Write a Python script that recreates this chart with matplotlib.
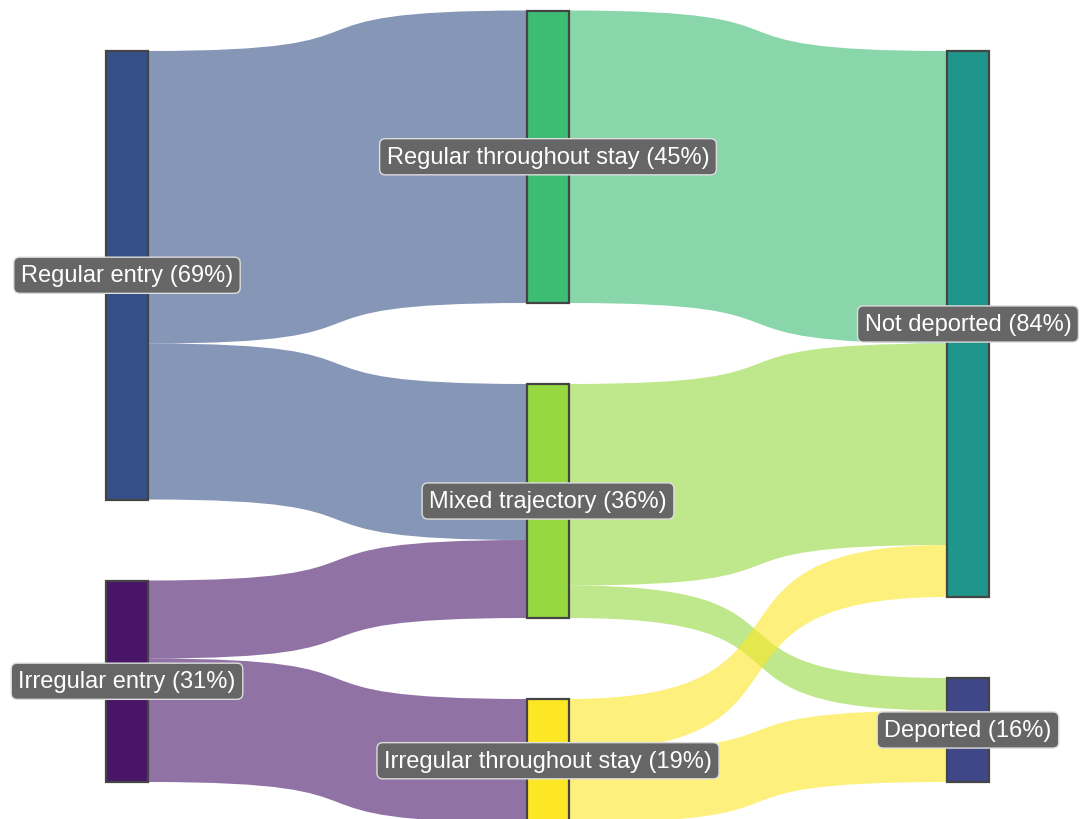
import matplotlib
matplotlib.use("Agg")
import matplotlib.pyplot as plt
from matplotlib.path import Path
from matplotlib.patches import PathPatch, Rectangle

# nodes per column (top to bottom)
columns = [
    ["Regular entry", "Irregular entry"],
    ["Regular throughout stay", "Mixed trajectory", "Irregular throughout stay"],
    ["Not deported", "Deported"],
]
node_labels = {
    "Regular entry": "Regular entry (69%)",
    "Irregular entry": "Irregular entry (31%)",
    "Regular throughout stay": "Regular throughout stay (45%)",
    "Mixed trajectory": "Mixed trajectory (36%)",
    "Irregular throughout stay": "Irregular throughout stay (19%)",
    "Not deported": "Not deported (84%)",
    "Deported": "Deported (16%)",
}
node_colors = {
    "Regular entry": "#355088",
    "Irregular entry": "#481567",
    "Regular throughout stay": "#3dbc74",
    "Mixed trajectory": "#95d840",
    "Irregular throughout stay": "#fde725",
    "Not deported": "#1f968b",
    "Deported": "#3f4788",
}

# flows (percent of people)
sources = ["Regular entry", "Regular entry", "Irregular entry", "Irregular entry",
           "Regular throughout stay", "Mixed trajectory", "Mixed trajectory",
           "Irregular throughout stay", "Irregular throughout stay"]
targets = ["Regular throughout stay", "Mixed trajectory", "Mixed trajectory",
           "Irregular throughout stay", "Not deported", "Not deported", "Deported",
           "Not deported", "Deported"]
values = [45, 24, 12, 19, 45, 31, 5, 8, 11]

W, H = 1081, 820
SCALE = 6.5          # px per percent
PAD = 81             # px gap between nodes
CENTER = 417.5
NODE_W = 42
COL_X = [106, 527, 947]
CURV = 0.72          # bezier control point offset (fraction of link length)

fig = plt.figure(figsize=(W / 100, H / 100), dpi=100)
ax = fig.add_axes([0, 0, 1, 1])
ax.set_xlim(0, W); ax.set_ylim(H, 0); ax.axis("off")

# node sizes
size = {}
for s, t, v in zip(sources, targets, values):
    size.setdefault(s, [0, 0]); size.setdefault(t, [0, 0])
    size[s][1] += v; size[t][0] += v
node_val = {n: max(io) for n, io in size.items()}

pos = {}
for ci, col in enumerate(columns):
    total = sum(node_val[n] for n in col) * SCALE + PAD * (len(col) - 1)
    y = CENTER - total / 2
    for n in col:
        h = node_val[n] * SCALE
        pos[n] = (COL_X[ci], y, h)
        y += h + PAD

out_off = {n: pos[n][1] for n in pos}
in_off = {n: pos[n][1] for n in pos}
for s, t, v in zip(sources, targets, values):
    h = v * SCALE
    x0 = pos[s][0] + NODE_W; x1 = pos[t][0]
    xa = x0 + CURV * (x1 - x0); xb = x1 - CURV * (x1 - x0)
    ys, yt = out_off[s], in_off[t]
    out_off[s] += h; in_off[t] += h
    verts = [(x0, ys), (xa, ys), (xb, yt), (x1, yt), (x1, yt + h),
             (xb, yt + h), (xa, ys + h), (x0, ys + h), (x0, ys)]
    codes = [Path.MOVETO, Path.CURVE4, Path.CURVE4, Path.CURVE4, Path.LINETO,
             Path.CURVE4, Path.CURVE4, Path.CURVE4, Path.CLOSEPOLY]
    ax.add_patch(PathPatch(Path(verts, codes), facecolor=node_colors[s], alpha=0.6,
                           edgecolor="none", zorder=1))

for n, (x, y, h) in pos.items():
    ax.add_patch(Rectangle((x, y), NODE_W, h, facecolor=node_colors[n],
                           edgecolor="#444444", lw=1.6, zorder=2))
    ax.text(x + NODE_W / 2, y + h / 2, node_labels[n], ha="center", va="center",
            fontsize=17, color="white", family="Liberation Sans", zorder=3,
            bbox=dict(boxstyle="round,pad=0.3,rounding_size=0.25", fc="#666666",
                      ec="#dddddd", lw=1))

fig.savefig("out.png", dpi=100)
